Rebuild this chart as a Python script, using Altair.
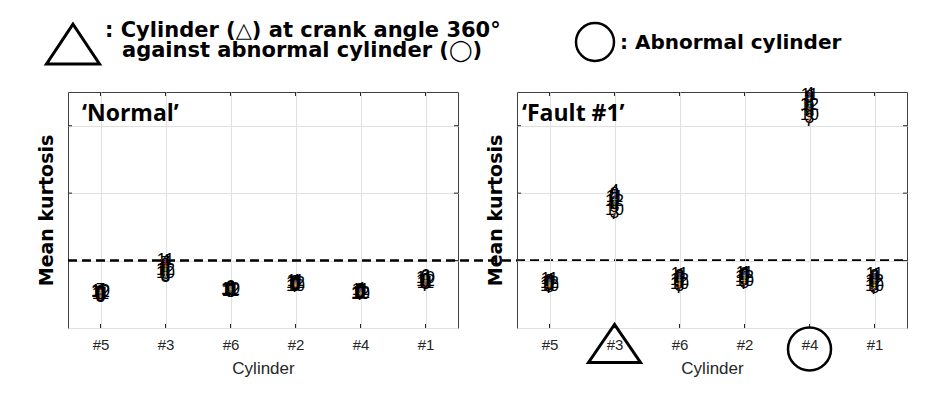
import altair as alt
import pandas as pd

# ---------------- data ----------------
cylinders = ["#5", "#3", "#6", "#2", "#4", "#1"]
run_ids = [str(i) for i in range(1, 13)]
threshold = [3.0]
ytick_vals = [3, 4, 5]

normal_c5 = [2.50, 2.53, 2.46, 2.56, 2.52, 2.48, 2.57, 2.51, 2.47, 2.55, 2.50, 2.53]
normal_c3 = [2.85, 2.93, 2.77, 2.99, 2.88, 2.80, 2.96, 2.75, 2.91, 2.82, 3.01, 2.86]
normal_c6 = [2.57, 2.60, 2.54, 2.59, 2.56, 2.61, 2.57, 2.54, 2.60, 2.58, 2.55, 2.57]
normal_c2 = [2.65, 2.68, 2.62, 2.69, 2.64, 2.67, 2.61, 2.68, 2.65, 2.63, 2.70, 2.66]
normal_c4 = [2.53, 2.56, 2.50, 2.58, 2.52, 2.55, 2.49, 2.57, 2.53, 2.51, 2.56, 2.52]
normal_c1 = [2.70, 2.75, 2.65, 2.73, 2.68, 2.77, 2.63, 2.71, 2.69, 2.74, 2.66, 2.70]

fault_c5 = [2.66, 2.70, 2.61, 2.71, 2.64, 2.68, 2.60, 2.69, 2.65, 2.63, 2.72, 2.66]
fault_c3 = [3.86, 3.96, 3.71, 4.03, 3.80, 3.91, 3.69, 3.99, 3.84, 3.75, 3.94, 3.88]
fault_c6 = [2.70, 2.75, 2.62, 2.79, 2.66, 2.72, 2.60, 2.77, 2.68, 2.65, 2.80, 2.71]
fault_c2 = [2.74, 2.79, 2.67, 2.81, 2.71, 2.77, 2.65, 2.80, 2.73, 2.70, 2.82, 2.75]
fault_c4 = [5.28, 5.38, 5.11, 5.47, 5.20, 5.33, 5.07, 5.43, 5.25, 5.16, 5.45, 5.30]
fault_c1 = [2.68, 2.75, 2.60, 2.79, 2.64, 2.71, 2.58, 2.77, 2.67, 2.63, 2.80, 2.70]

normal_series = [normal_c5, normal_c3, normal_c6, normal_c2, normal_c4, normal_c1]
fault_series = [fault_c5, fault_c3, fault_c6, fault_c2, fault_c4, fault_c1]

matlab_colors = ["#0072BD", "#D95319", "#EDB120", "#7E2F8E", "#77AC30", "#4DBEEE", "#A2142F"]


def to_df(series):
    rows = []
    for cyl, vals in zip(cylinders, series):
        for rid, v in zip(run_ids, vals):
            rows.append({"cyl": cyl, "run": rid, "value": v})
    return pd.DataFrame(rows)


W, H = 390, 236
GAP = 59
BOLD_FONT = "Open Sans"
ANN_FONT = "DejaVu Sans"
TICK_FONT = "Liberation Sans"

yscale = alt.Scale(domain=[2, 5.5], nice=False, zero=False)
yaxis = alt.Axis(title="Mean kurtosis", labels=False, ticks=False, domain=False,
                 values=[2, 3, 4, 5], grid=True, gridColor="#e0e0e0",
                 titleFont=ANN_FONT, titleFontSize=19, titleFontWeight="bold",
                 titleColor="black", titlePadding=12)
xaxis = alt.Axis(title="Cylinder", labelAngle=0, ticks=False, domain=False, grid=True,
                 gridColor="#e0e0e0", labelFont=TICK_FONT, labelFontSize=15,
                 labelColor="#262626", labelPadding=9, titleFont=TICK_FONT,
                 titleFontSize=17, titleFontWeight="normal", titleColor="#262626",
                 titlePadding=8)
xscale = alt.Scale(type="point", domain=cylinders, padding=0.5)

y_enc = alt.Y("value:Q", scale=yscale, axis=yaxis)
x_enc = alt.X("cyl:N", scale=xscale, axis=xaxis, sort=cylinders)

tri_shape = "M0,-0.75L-1,0.75L1,0.75Z"


def panel(series, title_text, is_first):
    df = to_df(series)
    layers = []
    # inward ticks
    tick_df = pd.DataFrame({"value": ytick_vals})
    for x0, x1 in [(0, 4), (W - 4, W)]:
        layers.append(alt.Chart(tick_df).mark_rule(color="#262626", strokeWidth=1).encode(
            y=y_enc, x=alt.value(x0), x2=alt.value(x1)))
    xt_df = pd.DataFrame({"cyl": cylinders})
    for y0, y1 in [(0, 4), (H - 4, H)]:
        layers.append(alt.Chart(xt_df).mark_rule(color="#262626", strokeWidth=1).encode(
            x=x_enc, y=alt.value(y0), y2=alt.value(y1)))

    texts = alt.Chart(df).mark_text(font=TICK_FONT, fontSize=17, color="black",
                                    align="center", baseline="middle").encode(
        x=x_enc, y=y_enc, text="run:N")
    dots = alt.Chart(df).mark_point(filled=True, size=4, opacity=1).encode(
        x=x_enc, y=y_enc,
        color=alt.Color("run:N", sort=run_ids,
                        scale=alt.Scale(domain=run_ids, range=matlab_colors), legend=None))
    layers += [texts, dots]

    ttl = alt.Chart(pd.DataFrame({"t": [title_text]})).mark_text(
        font=BOLD_FONT, fontSize=23, fontWeight="bold", align="left", baseline="middle",
        color="black").encode(text="t:N", x=alt.value(14 if is_first else 5), y=alt.value(22))
    layers.append(ttl)

    if is_first:
        layers.append(alt.Chart(pd.DataFrame({"value": threshold})).mark_rule(
            color="black", strokeWidth=2.5, strokeDash=[9, 5]).encode(
            y=y_enc, x=alt.value(0), x2=alt.value(2 * W + GAP)))
        layers.append(alt.Chart(pd.DataFrame({"k": [1]})).mark_point(
            shape=tri_shape, size=2809, filled=False, strokeWidth=3, color="black",
            opacity=1).encode(x=alt.value(5), y=alt.value(-48)))
        lines = pd.DataFrame({"t": [": Cylinder (\u25b3) at crank angle 360\u00b0",
                                    "against abnormal cylinder (\u25ef)"],
                              "px": [37, 54], "py": [-61, -41]})
        for _, r in lines.iterrows():
            layers.append(alt.Chart(pd.DataFrame({"t": [r["t"]]})).mark_text(
                font=ANN_FONT, fontSize=21, fontWeight="bold", align="left",
                baseline="middle", color="black").encode(
                text="t:N", x=alt.value(int(r["px"])), y=alt.value(int(r["py"]))))
    else:
        layers.append(alt.Chart(pd.DataFrame({"k": [1]})).mark_point(
            shape="circle", size=1444, filled=False, strokeWidth=2.5, color="black",
            opacity=1).encode(x=alt.value(78), y=alt.value(-50)))
        layers.append(alt.Chart(pd.DataFrame({"t": [": Abnormal cylinder"]})).mark_text(
            font=ANN_FONT, fontSize=20, fontWeight="bold", align="left",
            baseline="middle", color="black").encode(
            text="t:N", x=alt.value(103), y=alt.value(-49)))
        layers.append(alt.Chart(pd.DataFrame({"cyl": ["#3"]})).mark_point(
            shape="M0,-0.73L-1,0.73L1,0.73Z", size=2704, filled=False, strokeWidth=3,
            color="black", opacity=1).encode(x=x_enc, y=alt.value(H + 15.5)))
        layers.append(alt.Chart(pd.DataFrame({"cyl": ["#4"]})).mark_point(
            shape="circle", size=1849, filled=False, strokeWidth=2.5, color="black",
            opacity=1).encode(x=x_enc, y=alt.value(H + 21)))

    return alt.layer(*layers).properties(width=W, height=H)


p1 = panel(normal_series, "\u2018Normal\u2019", True)
p2 = panel(fault_series, "\u2018Fault #1\u2019", False)

chart = alt.hconcat(p1, p2, spacing=GAP, bounds="flush").properties(
    padding={"left": 28, "top": 9, "right": 5, "bottom": 5}
).configure_view(stroke="#404040", strokeWidth=1)

chart.save("out.html", embed_options={"renderer": "svg", "actions": False})
